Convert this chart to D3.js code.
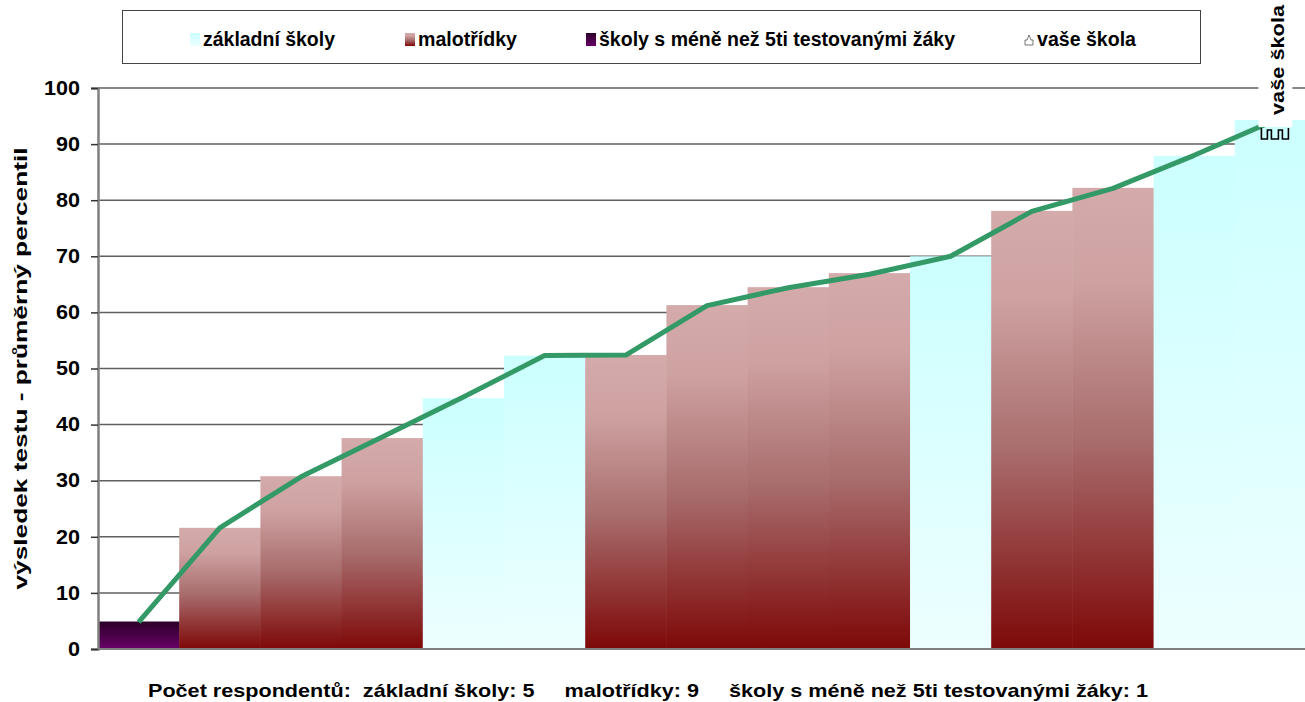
<!DOCTYPE html>
<html><head><meta charset="utf-8">
<script src="https://cdn.jsdelivr.net/npm/d3@7"></script>
<style>
html,body{margin:0;padding:0;background:#fff;overflow:hidden}
text{font-family:"Liberation Sans",Arial,sans-serif;font-weight:bold;fill:#000}
</style></head>
<body><svg id="c" width="1305" height="702"></svg>
<script>
// ---- data ----
const categories = ["1","2","3","4","5","6","7","8","9","10","11","12","13","14","15"];
const schoolTypes = ["male","malo","malo","malo","zs","zs","malo","malo","malo","malo","zs","malo","malo","zs","zs"];
const values = [4.9, 21.6, 30.8, 37.6, 44.7, 52.3, 52.4, 61.3, 64.5, 67.0, 70.0, 78.1, 82.2, 87.9, 94.3];
const lineValues = [4.8, 21.6, 30.7, 37.8, 44.9, 52.3, 52.4, 61.2, 64.4, 66.8, 70.0, 78.0, 82.1, 88.0, 94.3];
const yTicks = [0,10,20,30,40,50,60,70,80,90,100];
const legendLabels = ["základní školy","malotřídky","školy s méně než 5ti testovanými žáky","vaše škola"];
const yTitle = "výsledek testu - průměrný percentil";
const footer = "Počet respondentů:  základní školy: 5     malotřídky: 9     školy s méně než 5ti testovanými žáky: 1";
const yourSchoolIndex = 14;
const yourSchoolLabel = "vaše škola";

// ---- drawing ----
(function(){
const svg = d3.select("#c");
const pl = 98, pr = 1316, pt = 88, pb = 649;
const x = d3.scaleBand().domain(categories).range([pl, pr]).padding(0);
const y = d3.scaleLinear().domain([0,100]).range([pb, pt]);

const defs = svg.append("defs");
function grad(id, stops){
  const g = defs.append("linearGradient").attr("id", id).attr("x1",0).attr("y1",0).attr("x2",0).attr("y2",1);
  stops.forEach(s=>g.append("stop").attr("offset", s[0]).attr("stop-color", s[1]));
}
grad("gZs", [[0,"#CCFFFF"],[1,"#EDFFFF"]]);
grad("gMalo", [[0,"#D4AAAA"],[0.2,"#CFA2A2"],[0.55,"#A86C6C"],[1,"#7E0808"]]);
grad("gMale", [[0,"#2C0028"],[1,"#680068"]]);
const fillFor = {zs:"url(#gZs)", malo:"url(#gMalo)", male:"url(#gMale)"};

// gridlines
svg.append("g").selectAll("line").data(yTicks.filter(d=>d>0)).join("line")
  .attr("x1", pl).attr("x2", 1305).attr("y1", d=>y(d)).attr("y2", d=>y(d))
  .attr("stroke", "#606060").attr("stroke-width", 1.5);

// bars
svg.append("g").selectAll("rect").data(values).join("rect")
  .attr("x", (d,i)=>x(categories[i]))
  .attr("width", x.bandwidth()+0.5)
  .attr("y", d=>y(d))
  .attr("height", d=>y(0)-y(d))
  .attr("fill", (d,i)=>fillFor[schoolTypes[i]]);

// axis
const yAxis = d3.axisLeft(y).tickValues(yTicks).tickSize(7).tickPadding(11).tickFormat(d3.format("d"));
const ax = svg.append("g").attr("transform", `translate(${pl},0)`).call(yAxis);
ax.select(".domain").attr("stroke","#808080").attr("stroke-width",2.5);
ax.selectAll(".tick line").attr("stroke","#333").attr("stroke-width",1.5);
ax.selectAll(".tick text").attr("font-size",19.5).attr("font-family","Liberation Sans, Arial, sans-serif")
  .attr("font-weight","bold").attr("fill","#000")
  .attr("textLength", d=>String(d).length*12).attr("lengthAdjust","spacingAndGlyphs");
svg.append("line").attr("x1",pl).attr("x2",1305).attr("y1",y(0)).attr("y2",y(0)).attr("stroke","#808080").attr("stroke-width",2);

// line
const line = d3.line().x((d,i)=>x(categories[i])+x.bandwidth()/2).y(d=>y(d));
svg.append("path").datum(lineValues).attr("d", line).attr("fill","none")
  .attr("stroke","#339966").attr("stroke-width",5).attr("stroke-linejoin","round");

// your school marker + label
const mx = x(categories[yourSchoolIndex]) + x.bandwidth()/2;
const my = y(lineValues[yourSchoolIndex]);
svg.append("rect").attr("x", mx-17).attr("y", 3).attr("width", 34).attr("height", my+7-3).attr("fill","#fff");
const m0 = my+8, m1 = my+19;
svg.append("path").attr("d",
  `M${mx-14},${m0} V${m1} H${mx-8} V${m0+2} H${mx-4} V${m1} H${mx+3} V${m0+2} H${mx+7} V${m1} H${mx+13} V${m0}`)
  .attr("fill","none").attr("stroke","#000").attr("stroke-width",1.6);
svg.append("text").attr("transform", `translate(${mx+9},${my-5}) rotate(-90)`)
  .attr("font-size",19).attr("textLength",110).attr("lengthAdjust","spacingAndGlyphs").text(yourSchoolLabel);

// y title
svg.append("text").attr("transform", `translate(27,${(pt+pb)/2}) rotate(-90)`)
  .attr("text-anchor","middle").attr("font-size",19)
  .attr("textLength",442).attr("lengthAdjust","spacingAndGlyphs").text(yTitle);

// legend
svg.append("rect").attr("x",122.5).attr("y",10.5).attr("width",1078).attr("height",53)
  .attr("fill","#fff").attr("stroke","#444").attr("stroke-width",1);
const legX = [190, 405, 586, 1024];
const legW = [132, 99, 356, 99];
const legFill = ["url(#gZs)","url(#gMalo)","url(#gMale)",null];
legendLabels.forEach((lab,i)=>{
  if (legFill[i]) {
    svg.append("rect").attr("x",legX[i]).attr("y",33).attr("width",10).attr("height",13).attr("fill",legFill[i]);
  } else {
    svg.append("path").attr("d",`M${legX[i]+1},45 V40 H${legX[i]+3} L${legX[i]+5},35 L${legX[i]+7},40 H${legX[i]+9} V45 Z`)
      .attr("fill","none").attr("stroke","#555").attr("stroke-width",0.8);
  }
  svg.append("text").attr("x", legX[i]+13).attr("y", 46).attr("font-size",19.5)
    .attr("textLength",legW[i]).attr("lengthAdjust","spacingAndGlyphs").text(lab);
});

// footer
svg.append("text").attr("x",148).attr("y",697).attr("font-size",19)
  .attr("xml:space","preserve").style("white-space","pre")
  .attr("textLength",1000).attr("lengthAdjust","spacingAndGlyphs").text(footer);
})();
</script></body></html>
